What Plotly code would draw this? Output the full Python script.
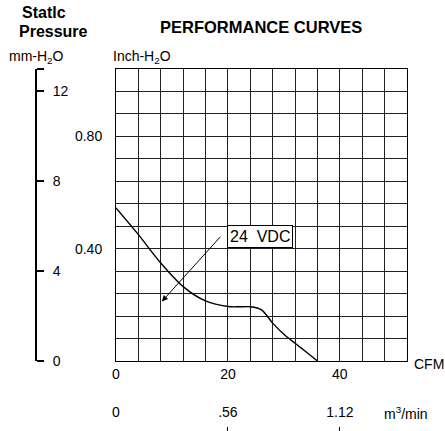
import plotly.graph_objects as go

# ---- data ----
cfm = [0, 4, 8, 12, 16, 20, 22, 24, 26, 28, 30, 32, 34, 36]
inch_h2o = [0.545, 0.45, 0.349, 0.265, 0.214, 0.194, 0.193, 0.193, 0.182, 0.135, 0.095, 0.063, 0.032, 0.0]

x_tick_vals = [0, 20, 40]
x_tick_text = ["0", "20", "40"]
y_tick_vals = [0.40, 0.80]
y_tick_text = ["0.40", "0.80"]
mm_tick_vals = [0, 4, 8, 12, 13]
mm_tick_text = ["0", "4", "8", "12", ""]
m3_tick_vals = [0, 20, 40]
m3_tick_text = ["0", ".56", "1.12"]

label_text = "24\u00a0\u00a0VDC"
label_pos = (25.7, 0.444)
arrow_head = (8.2, 0.212)
arrow_tail = (18.9, 0.448)

FONT = "Liberation Sans, Arial, sans-serif"
W, H = 445, 431
ML, MR, MT, MB = 30, 38, 69, 0
PW = W - ML - MR
PH = H - MT - MB


def px(X):
    """page x pixel -> paper coordinate"""
    return (X - ML) / PW


def py(Y):
    """page y pixel -> paper coordinate"""
    return (H - MB - Y) / PH


GRID = "#222222"

fig = go.Figure()
fig.add_trace(go.Scatter(
    x=cfm, y=inch_h2o, mode="lines",
    line=dict(color="black", width=1.4, shape="spline", smoothing=0.8),
    showlegend=False, hoverinfo="skip"))

fig.update_layout(
    width=W, height=H,
    margin=dict(l=ML, r=MR, t=MT, b=MB, autoexpand=False),
    paper_bgcolor="white", plot_bgcolor="white",
    font=dict(family=FONT, size=14, color="black"),
    showlegend=False,
    xaxis=dict(
        domain=[px(116), px(407)], range=[0, 52], anchor="y",
        tickmode="array", tickvals=x_tick_vals, ticktext=x_tick_text,
        ticks="", showline=True, mirror=True, linecolor="black", linewidth=1,
        showgrid=True, gridcolor=GRID, gridwidth=1, zeroline=False,
        minor=dict(tickmode="linear", tick0=0, dtick=4, showgrid=True,
                   gridcolor=GRID, gridwidth=1, ticks=""),
        tickfont=dict(size=14), ticklabelstandoff=0,
    ),
    yaxis=dict(
        domain=[py(361), py(69)], range=[0, 1.04], anchor="x",
        tickmode="array", tickvals=y_tick_vals, ticktext=y_tick_text,
        ticks="", showline=True, mirror=True, linecolor="black", linewidth=1,
        showgrid=True, gridcolor=GRID, gridwidth=1, zeroline=False,
        minor=dict(tickmode="linear", tick0=0, dtick=0.08, showgrid=True,
                   gridcolor=GRID, gridwidth=1, ticks=""),
        tickfont=dict(size=14), ticklabelstandoff=10,
    ),
    yaxis2=dict(
        overlaying="y", anchor="free", position=px(36), side="right",
        range=[0, 13], tickmode="array", tickvals=mm_tick_vals, ticktext=mm_tick_text,
        ticks="outside", ticklen=7, tickwidth=2, tickcolor="black",
        showline=True, linecolor="black", linewidth=2,
        showgrid=False, zeroline=False,
        tickfont=dict(size=14), ticklabelstandoff=6,
    ),
    xaxis2=dict(
        overlaying="x", anchor="free", position=py(426), side="top",
        range=[0, 52], tickmode="array", tickvals=m3_tick_vals, ticktext=m3_tick_text,
        ticks="inside", ticklen=5, tickwidth=1, tickcolor="black",
        showline=False, showgrid=False, zeroline=False,
        tickfont=dict(size=14), ticklabelstandoff=6,
    ),
)

# invisible traces so the extra axes render
fig.add_trace(go.Scatter(x=[None], y=[None], xaxis="x", yaxis="y2", showlegend=False))
fig.add_trace(go.Scatter(x=[None], y=[None], xaxis="x2", yaxis="y", showlegend=False))

ann = []
ann.append(dict(text="<b>Statlc</b>", x=px(20), y=py(12.5), xref="paper", yref="paper",
                xanchor="left", yanchor="middle", showarrow=False, font=dict(size=16)))
ann.append(dict(text="<b>Pressure</b>", x=px(17), y=py(31.5), xref="paper", yref="paper",
                xanchor="left", yanchor="middle", showarrow=False, font=dict(size=16)))
ann.append(dict(text="<b>PERFORMANCE CURVES</b>", x=px(260.5), y=py(26.5), xref="paper", yref="paper",
                xanchor="center", yanchor="middle", showarrow=False, font=dict(size=16.5)))
ann.append(dict(text="mm-H<sub>2</sub>O", x=px(7), y=py(57), xref="paper", yref="paper",
                xanchor="left", yanchor="middle", showarrow=False, font=dict(size=14)))
ann.append(dict(text="Inch-H<sub>2</sub>O", x=px(111), y=py(57), xref="paper", yref="paper",
                xanchor="left", yanchor="middle", showarrow=False, font=dict(size=14)))
ann.append(dict(text="CFM", x=px(412), y=py(364), xref="paper", yref="paper",
                xanchor="left", yanchor="middle", showarrow=False, font=dict(size=14)))
ann.append(dict(text="m<sup>3</sup>/min", x=px(382), y=py(413), xref="paper", yref="paper",
                xanchor="left", yanchor="middle", showarrow=False, font=dict(size=14)))
ann.append(dict(text=label_text, x=label_pos[0], y=label_pos[1], xref="x", yref="y",
                showarrow=False, font=dict(size=16), bgcolor="white",
                bordercolor="black", borderwidth=1, borderpad=2))
ann.append(dict(text="", x=arrow_head[0], y=arrow_head[1], xref="x", yref="y",
                ax=arrow_tail[0], ay=arrow_tail[1], axref="x", ayref="y",
                showarrow=True, arrowhead=2, arrowsize=1.2, arrowwidth=1, arrowcolor="black"))
fig.update_layout(annotations=ann)

fig.write_html("out.html", config={"displayModeBar": False},
               post_script="document.body.style.margin='0px';")
